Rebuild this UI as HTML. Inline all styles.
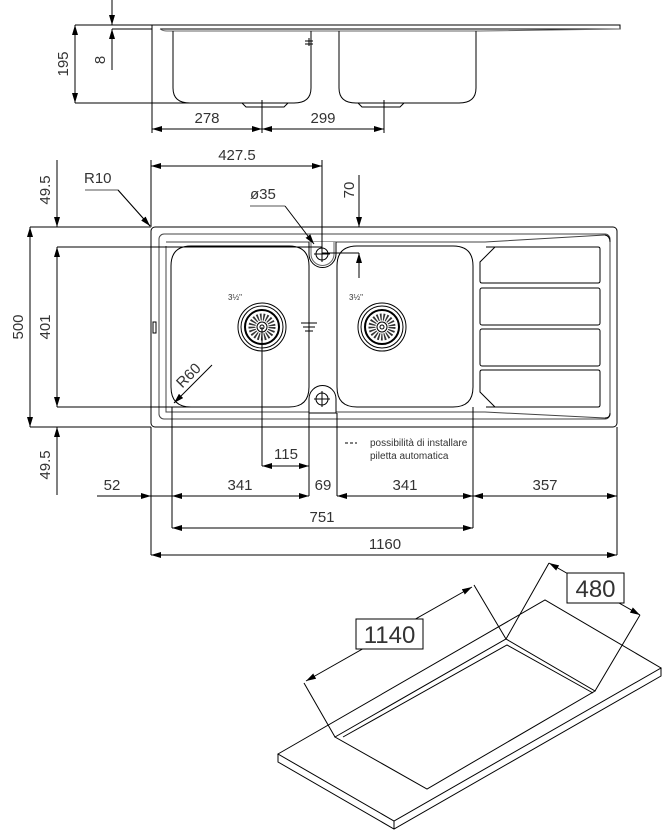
<!DOCTYPE html>
<html><head><meta charset="utf-8"><style>
html,body{margin:0;padding:0;background:#fff}
svg{display:block}
text{font-family:"Liberation Sans",sans-serif;fill:#333}
.d{font-size:15px}
</style></head><body>
<svg width="669" height="837" viewBox="0 0 669 837" xmlns="http://www.w3.org/2000/svg">
<defs>
<marker id="a" viewBox="0 0 10 6" refX="10" refY="3" markerWidth="10" markerHeight="6" orient="auto-start-reverse" markerUnits="userSpaceOnUse">
<path d="M0,0 L10,3 L0,6 z" fill="#000"/></marker>
</defs>
<g fill="none" stroke="#000" stroke-width="1">
<path d="M152,25 H620 V29 H160"/>
<path d="M160,29 Q163,31 167,31 H480 L620,29" stroke="#666"/>
<path d="M173,31 V88 Q173,103 190,103 H294 Q311,103 311,88 V31"/>
<path d="M339,31 V88 Q339,103 356,103 H459 Q476,103 476,88 V31"/>
<path d="M242,103 L246,107 H284 L288,103"/>
<path d="M358,103 L362,107 H400 L404,103"/>
<path d="M309,38 V46 M305,41 H313 M305,44 H313"/>
<path d="M75,25 H152 M112,29 H152 M75,103 H200"/>
<path d="M152,25 V133"/>
<line x1="75" y1="25" x2="75" y2="103" marker-start="url(#a)" marker-end="url(#a)"/>
<line x1="112" y1="0" x2="112" y2="25" marker-end="url(#a)"/>
<line x1="112" y1="70" x2="112" y2="29" marker-end="url(#a)"/>
<path d="M262,100 V133 M384,100 V133"/>
<line x1="152" y1="129" x2="262" y2="129" marker-start="url(#a)" marker-end="url(#a)"/>
<line x1="262" y1="129" x2="384" y2="129" marker-start="url(#a)" marker-end="url(#a)"/>

<rect x="151" y="227" width="466" height="200" rx="4"/>
<rect x="159" y="234" width="451" height="185" rx="5" stroke="#444"/>
<path d="M166,246 V407 L166,412 H485 L605,418 M166,242 H485 L605,235" stroke="#444"/>
<path d="M605,235 Q610,236 610,242 M605,418 Q610,418 610,413"/>
<path d="M191,246 H289 Q309,246 309,266 V387 Q309,407 289,407 H191 Q171,407 171,387 V266 Q171,246 191,246 Z"/>
<path d="M357,246 H453 Q473,246 473,266 V387 Q473,407 453,407 H357 Q337,407 337,387 V266 Q337,246 357,246 Z"/>
<path d="M309,242 V254 A13,13 0 0 0 336,254 V242" fill="#fff"/>
<path d="M311,242 V254 A11,11 0 0 0 334,254 V242" stroke="#666"/>
<circle cx="322" cy="254" r="6"/>
<path d="M322,246 V262 M314,254 H330"/>
<path d="M309,413 V399 A13,13 0 0 1 336,399 V413 Z" fill="#fff"/>
<circle cx="322" cy="399" r="6"/>
<path d="M322,391 V407 M314,399 H330"/>
<path d="M301,323 H317 M303,327 H315 M305,331 H313"/>
<rect x="153" y="322" width="3" height="11"/>
<g id="dr">
<circle cx="262" cy="327" r="24"/><circle cx="262" cy="327" r="21"/>
<circle cx="262" cy="327" r="17" stroke-width="2"/>
<circle cx="262" cy="327" r="10" stroke-dasharray="1.5 1.5" stroke-width="7" stroke="#333"/>
<circle cx="262" cy="327" r="5"/><circle cx="262" cy="327" r="2"/>
</g>
<use href="#dr" x="120"/>
<path d="M486,247 H598 Q600,247 600,249 V281 Q600,283 598,283 H482 Q480,283 480,281 V262 L495,247"/>
<rect x="480" y="288" width="120" height="37" rx="2"/>
<rect x="480" y="329" width="120" height="37" rx="2"/>
<path d="M486,407 H598 Q600,407 600,405 V372 Q600,370 598,370 H482 Q480,370 480,372 V392 L495,407"/>

<path d="M151,160 V227 M322,160 V250 M30,227 H151 M57,247 H322 M57,407 H200 M30,427 H151"/>
<line x1="151" y1="166" x2="322" y2="166" marker-start="url(#a)" marker-end="url(#a)"/>
<line x1="30" y1="227" x2="30" y2="427" marker-start="url(#a)" marker-end="url(#a)"/>
<line x1="57" y1="247" x2="57" y2="407" marker-start="url(#a)" marker-end="url(#a)"/>
<line x1="57" y1="160" x2="57" y2="227" marker-end="url(#a)"/>
<line x1="57" y1="495" x2="57" y2="427" marker-end="url(#a)"/>
<path d="M85,190 H118 L151,227" stroke="#555"/>
<line x1="118" y1="190" x2="150" y2="226" marker-end="url(#a)"/>
<path d="M250,206 H285" stroke="#555"/>
<line x1="285" y1="206" x2="314" y2="244" marker-end="url(#a)"/>
<line x1="359" y1="175" x2="359" y2="227" marker-end="url(#a)"/>
<line x1="359" y1="278" x2="359" y2="253" marker-end="url(#a)"/>
<path d="M322,253 H359"/>
<path d="M172,407 V528 M262,327 V466 M309,413 V496 M337,413 V496 M473,407 V528 M151,427 V555 M617,427 V555"/>
<line x1="97" y1="496" x2="151" y2="496" marker-end="url(#a)"/>
<line x1="172" y1="496" x2="309" y2="496" marker-start="url(#a)" marker-end="url(#a)"/>
<line x1="337" y1="496" x2="473" y2="496" marker-start="url(#a)" marker-end="url(#a)"/>
<line x1="473" y1="496" x2="617" y2="496" marker-start="url(#a)" marker-end="url(#a)"/>
<path d="M151,496 H172"/>
<line x1="262" y1="466" x2="309" y2="466" marker-start="url(#a)" marker-end="url(#a)"/>
<line x1="172" y1="528" x2="473" y2="528" marker-start="url(#a)" marker-end="url(#a)"/>
<line x1="151" y1="555" x2="617" y2="555" marker-start="url(#a)" marker-end="url(#a)"/>
<line x1="212" y1="365" x2="174" y2="403" marker-end="url(#a)"/>
<path d="M345,443 H357" stroke-dasharray="3 2"/>

<path d="M278,754 L545,600 L661,668 L394,821 Z"/>
<path d="M278,754 V762 L394,829 L661,676 V668 M394,821 V829"/>
<path d="M335,737 L506,639 L595,691 L427,789 Z"/>
<path d="M343,737 L507,645 L593,693"/>
<path d="M335,737 L304,683 M506,639 L474,585 M506,639 L549,563 M595,691 L640,615"/>
<line x1="306" y1="681" x2="472" y2="587" marker-start="url(#a)" marker-end="url(#a)"/>
<line x1="549" y1="563" x2="640" y2="615" marker-start="url(#a)" marker-end="url(#a)"/>
<rect x="356" y="619" width="67" height="30" fill="#fff"/>
<rect x="567" y="573" width="57" height="30" fill="#fff"/>
</g>

<g class="d">
<text x="207" y="123" text-anchor="middle">278</text>
<text x="323" y="123" text-anchor="middle">299</text>
<text transform="translate(68,64) rotate(-90)" text-anchor="middle">195</text>
<text transform="translate(105,60) rotate(-90)" text-anchor="middle">8</text>
<text x="237" y="160" text-anchor="middle">427.5</text>
<text x="84" y="183">R10</text>
<text x="250" y="199">ø35</text>
<text transform="translate(354,190) rotate(-90)" text-anchor="middle">70</text>
<text transform="translate(50,190) rotate(-90)" text-anchor="middle">49.5</text>
<text transform="translate(50,465) rotate(-90)" text-anchor="middle">49.5</text>
<text transform="translate(23,327) rotate(-90)" text-anchor="middle">500</text>
<text transform="translate(50,327) rotate(-90)" text-anchor="middle">401</text>
<text transform="translate(192,379) rotate(-45)" text-anchor="middle">R60</text>
<text x="286" y="459" text-anchor="middle">115</text>
<text x="112" y="490" text-anchor="middle">52</text>
<text x="240" y="490" text-anchor="middle">341</text>
<text x="323" y="490" text-anchor="middle">69</text>
<text x="405" y="490" text-anchor="middle">341</text>
<text x="545" y="490" text-anchor="middle">357</text>
<text x="322" y="522" text-anchor="middle">751</text>
<text x="385" y="549" text-anchor="middle">1160</text>
<text x="389.5" y="643" text-anchor="middle" style="font-size:24px">1140</text>
<text x="595.5" y="597" text-anchor="middle" style="font-size:24px">480</text>
</g>
<text x="228" y="300" style="font-size:8px">3½"</text>
<text x="349" y="300" style="font-size:8px">3½"</text>
<text x="370" y="446" style="font-size:10px">possibilità di installare</text>
<text x="370" y="459" style="font-size:10px">piletta automatica</text>
</svg>
</body></html>
